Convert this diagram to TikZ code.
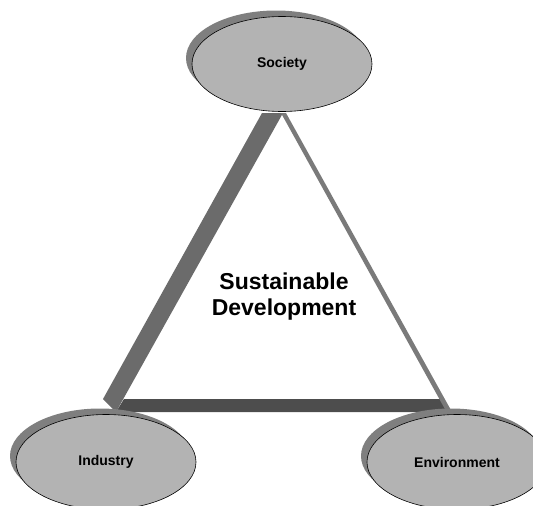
\documentclass[tikz,border=0pt]{standalone}
\usepackage{fontspec}
\setmainfont{Liberation Sans}
\usepackage{xcolor}
\usepackage{tikz}
\usetikzlibrary{shapes.geometric,shadows}

\definecolor{ovalgray}{HTML}{B3B3B3}
\definecolor{shadegray}{HTML}{7F7F7F}
\definecolor{leftgray}{HTML}{6B6B6B}
\definecolor{basegray}{HTML}{4D4D4D}
\definecolor{rightgray}{HTML}{7A7A7A}

\begin{document}
\begin{tikzpicture}[x=1pt,y=-1pt,
    pillar/.style={ellipse, draw=black, line width=0.6pt, fill=ovalgray,
      minimum width=180pt, minimum height=95pt, inner sep=0pt,
      font=\fontsize{14}{16}\selectfont\bfseries,
      drop shadow={shadow xshift=-6pt, shadow yshift=6pt, fill=shadegray, opacity=1}}]
            \clip (0,0) rectangle (533,506);

            % corners of the triangle
            \coordinate (sl) at (262,113);
            \coordinate (sr) at (283,113);
            \coordinate (sm) at (281,113);
            \coordinate (sn) at (286,113);
            \coordinate (il) at (103,399);
            \coordinate (ib) at (116,412);
            \coordinate (it) at (124,399);
            \coordinate (et) at (442,399);
            \coordinate (eb) at (452,412);
            \coordinate (el) at (446,411);

            \fill[leftgray] (sl) -- (sr) -- (ib) -- (il) -- cycle; % society-industry
            \fill[basegray] (it) -- (et) -- (eb) -- (ib) -- cycle; % industry-environment
            \fill[rightgray] (sm) -- (sn) -- (eb) -- (el) -- cycle; % society-environment

            \node[pillar] (society) at (282,64) {Society};
            \node[pillar] (industry) at (106,462) {Industry};
            \node[pillar] (environment) at (457,462) {Environment};

            \node[font=\fontsize{23}{26}\selectfont\bfseries, align=center] (sd) at (284,297) {Sustainable\\Development};
        \end{tikzpicture}
\end{document}
